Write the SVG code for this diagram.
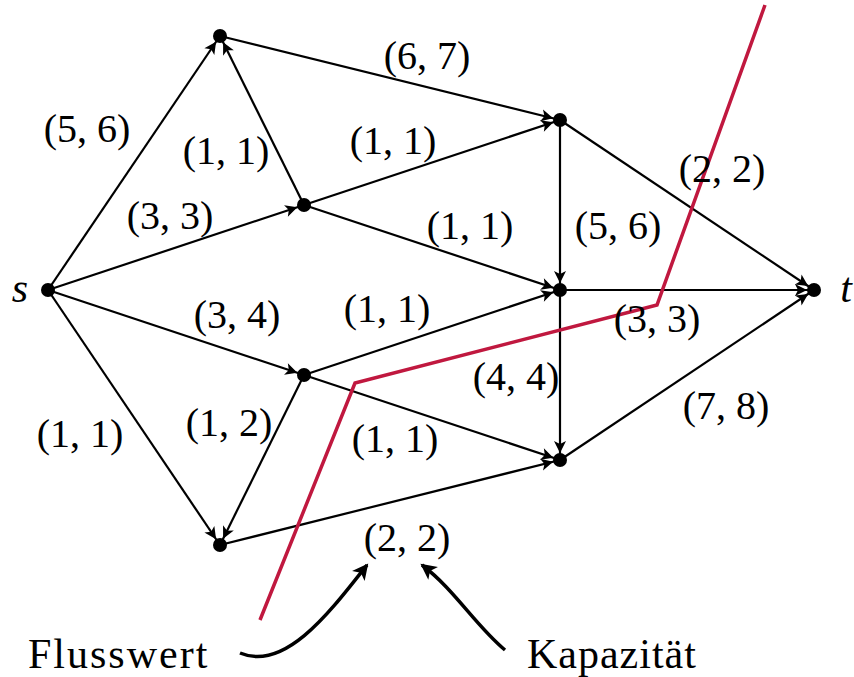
<svg xmlns="http://www.w3.org/2000/svg" width="854" height="677" viewBox="0 0 854 677">
<defs>
<marker id="ah" markerUnits="userSpaceOnUse" markerWidth="30" markerHeight="20" viewBox="-2 -8 30 16" refX="19" refY="0" orient="auto">
<path d="M0,-6 L12,0 L0,6 L3,0 z" fill="#000"/>
</marker>
<marker id="ah2" markerUnits="userSpaceOnUse" markerWidth="30" markerHeight="24" viewBox="-2 -10 30 20" refX="14" refY="0" orient="auto">
<path d="M0,-8 L16,0 L0,8 L4,0 z" fill="#000"/>
</marker>
<style>
.e{stroke:#000;stroke-width:2.2;fill:none;marker-end:url(#ah)}
.n{fill:#000}
.l{font-family:"Liberation Serif",serif;font-size:40px;text-anchor:middle;fill:#000}
.v{font-family:"Liberation Serif",serif;font-size:42px;font-style:italic;text-anchor:middle;fill:#000}
.w{font-family:"Liberation Serif",serif;font-size:42px;fill:#000}
</style>
</defs>
<rect width="854" height="677" fill="#fff"/>
<g id="connectors">
<line class="e" x1="48" y1="290" x2="220" y2="36"/>
<line class="e" x1="220" y1="36" x2="560" y2="120"/>
<line class="e" x1="304" y1="205" x2="220" y2="36"/>
<line class="e" x1="48" y1="290" x2="304" y2="205"/>
<line class="e" x1="304" y1="205" x2="560" y2="120"/>
<line class="e" x1="304" y1="205" x2="560" y2="290"/>
<line class="e" x1="560" y1="120" x2="560" y2="290"/>
<line class="e" x1="560" y1="120" x2="814" y2="290"/>
<line class="e" x1="560" y1="290" x2="814" y2="290"/>
<line class="e" x1="48" y1="290" x2="304" y2="375"/>
<line class="e" x1="304" y1="375" x2="560" y2="290"/>
<line class="e" x1="304" y1="375" x2="220" y2="545"/>
<line class="e" x1="304" y1="375" x2="560" y2="460"/>
<line class="e" x1="560" y1="290" x2="560" y2="460"/>
<line class="e" x1="560" y1="460" x2="814" y2="290"/>
<line class="e" x1="48" y1="290" x2="220" y2="545"/>
<line class="e" x1="220" y1="545" x2="560" y2="460"/>
</g>
<g id="cut">
<polyline points="765,5 657,305 355,383 260,620" fill="none" stroke="#c0183f" stroke-width="3.5"/>
</g>
<g id="node-s"><circle class="n" cx="48" cy="290" r="7"/><text class="v" x="20" y="302">s</text></g>
<g id="node-a"><circle class="n" cx="220" cy="36" r="7"/></g>
<g id="node-b"><circle class="n" cx="304" cy="205" r="7"/></g>
<g id="node-c"><circle class="n" cx="560" cy="120" r="7"/></g>
<g id="node-d"><circle class="n" cx="560" cy="290" r="7"/></g>
<g id="node-e"><circle class="n" cx="304" cy="375" r="7"/></g>
<g id="node-f"><circle class="n" cx="560" cy="460" r="7"/></g>
<g id="node-g"><circle class="n" cx="220" cy="545" r="7"/></g>
<g id="node-t"><circle class="n" cx="814" cy="290" r="7"/><text class="v" x="846" y="302">t</text></g>
<g id="labels">
<text class="l" x="87" y="142">(5, 6)</text>
<text class="l" x="427" y="69">(6, 7)</text>
<text class="l" x="226" y="164">(1, 1)</text>
<text class="l" x="170" y="229">(3, 3)</text>
<text class="l" x="393" y="154">(1, 1)</text>
<text class="l" x="470" y="239">(1, 1)</text>
<text class="l" x="618" y="239">(5, 6)</text>
<text class="l" x="722" y="182">(2, 2)</text>
<text class="l" x="237" y="328">(3, 4)</text>
<text class="l" x="387" y="322">(1, 1)</text>
<text class="l" x="657" y="332">(3, 3)</text>
<text class="l" x="516" y="390">(4, 4)</text>
<text class="l" x="80" y="447">(1, 1)</text>
<text class="l" x="229" y="436">(1, 2)</text>
<text class="l" x="395" y="452">(1, 1)</text>
<text class="l" x="726" y="419">(7, 8)</text>
<text class="l" x="407" y="551">(2, 2)</text>
</g>
<g id="legend">
<text class="w" x="28" y="668" letter-spacing="2">Flusswert</text>
<text class="w" x="527" y="668" letter-spacing="1">Kapazität</text>
<path d="M240,653 C285,672 330,612 367,565" fill="none" stroke="#000" stroke-width="3.5" marker-end="url(#ah2)"/>
<path d="M505,650 C475,625 455,590 422,565" fill="none" stroke="#000" stroke-width="3.5" marker-end="url(#ah2)"/>
</g>
</svg>
